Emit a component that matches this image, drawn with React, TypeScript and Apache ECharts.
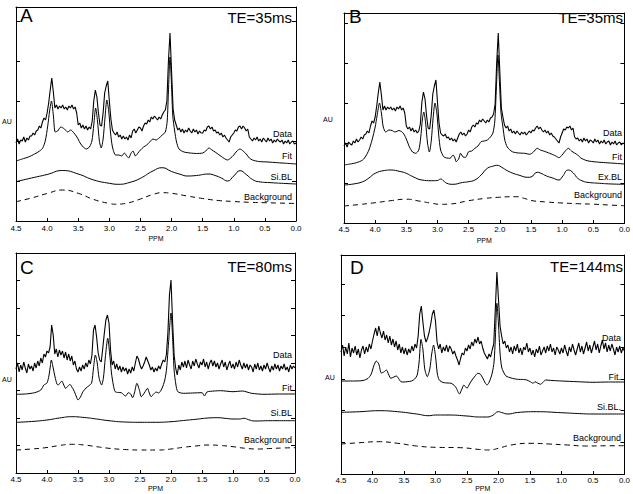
import React, { useEffect, useRef } from "react";
import * as echarts from "echarts";

// x axis (PPM) tick labels
const PPM_TICKS = ["4.5", "4.0", "3.5", "3.0", "2.5", "2.0", "1.5", "1.0", "0.5", "0.0"];
const DATA_STEP = 0.025; // Data traces sampled from 4.5 down to 0.0 ppm

// ---------------- Panel A (TE=35ms) ----------------
const dataA = [
  78, 82, 77, 81, 80, 84, 79, 83, 81, 85,
  85, 88, 86, 90, 91, 95, 93, 99, 103, 101,
  108, 118, 131, 143, 129, 113, 116, 112, 115, 113,
  116, 112, 114, 111, 115, 113, 116, 112, 114, 108,
  96, 98, 93, 96, 92, 95, 91, 94, 92, 100,
  120, 131, 124, 108, 96, 95, 108, 128, 135, 140,
  120, 102, 91, 88, 86, 89, 84, 86, 82, 85,
  82, 84, 81, 86, 83, 90, 92, 88, 91, 94,
  93, 90, 95, 98, 97, 101, 99, 104, 102, 105,
  103, 101, 104, 102, 106, 109, 111, 120, 160, 188,
  150, 112, 101, 96, 91, 93, 89, 92, 88, 91,
  89, 93, 90, 88, 92, 89, 91, 87, 90, 88,
  88, 91, 90, 94, 95, 92, 94, 90, 91, 88,
  89, 86, 88, 84, 86, 83, 81, 79, 84, 86,
  88, 91, 90, 94, 95, 92, 95, 93, 90, 92,
  84, 82, 80, 83, 81, 84, 80, 82, 79, 83,
  81, 79, 83, 80, 82, 78, 81, 79, 82, 80,
  79, 81, 77, 80, 78, 81, 77, 79, 80, 77,
  78,
];
const fitA = [
  [4.5, 60], [4.4, 62], [4.3, 64], [4.2, 67], [4.12, 70], [4.07, 73], [4.03, 80], [3.99, 95],
  [3.96, 110], [3.93, 120], [3.9, 106], [3.87, 89], [3.83, 90], [3.78, 94], [3.72, 92], [3.67, 89],
  [3.62, 91], [3.57, 88], [3.52, 84], [3.47, 78], [3.42, 74], [3.37, 72], [3.32, 74], [3.28, 80],
  [3.25, 96], [3.22, 113], [3.19, 100], [3.16, 80], [3.13, 73], [3.1, 82], [3.07, 103], [3.04, 121],
  [3.01, 110], [2.98, 88], [2.95, 74], [2.9, 66], [2.85, 66], [2.8, 65], [2.76, 68], [2.72, 65],
  [2.69, 63], [2.65, 68], [2.62, 70], [2.58, 65], [2.54, 68], [2.5, 71], [2.45, 74], [2.4, 76],
  [2.35, 79], [2.3, 82], [2.25, 81], [2.2, 83], [2.15, 86], [2.1, 89], [2.07, 100], [2.05, 130],
  [2.025, 164], [2.0, 135], [1.98, 105], [1.95, 90], [1.92, 79], [1.88, 72], [1.8, 69], [1.7, 68],
  [1.6, 67.5], [1.5, 68], [1.45, 70], [1.4, 73], [1.35, 71], [1.3, 69], [1.2, 64.5], [1.1, 61],
  [1.05, 63], [1.0, 66], [0.95, 70], [0.9, 72], [0.85, 70], [0.8, 67], [0.75, 63], [0.7, 61],
  [0.6, 59.5], [0.45, 59], [0.3, 58.3], [0.15, 57.7], [0, 57],
];
const blA = [
  [4.5, 39.3], [4.25, 43], [4.0, 46.5], [3.75, 50.5], [3.5, 47], [3.25, 41], [3.0, 37.7], [2.85, 36.7],
  [2.65, 39], [2.5, 42.7], [2.3, 50], [2.15, 53.3], [2.0, 49.5], [1.85, 46.5], [1.75, 45], [1.6, 45.5],
  [1.4, 47], [1.3, 45.5], [1.2, 43], [1.1, 40], [1.0, 45], [0.9, 50.3], [0.8, 46.5], [0.7, 41.5],
  [0.6, 39.3], [0.4, 38.3], [0.2, 37.6], [0, 37],
];
const bgA = [
  [4.5, 19.3], [4.25, 23], [4.0, 27.5], [3.75, 31], [3.5, 27.7], [3.25, 21.5], [3.0, 17.5], [2.9, 16.8],
  [2.75, 17.5], [2.5, 22], [2.3, 26.5], [2.15, 28.3], [2.0, 27.7], [1.75, 25], [1.5, 22.5], [1.25, 20.5],
  [1.0, 19.5], [0.75, 18.7], [0.5, 18.3], [0, 17.5],
];

// ---------------- Panel B (TE=35ms) ----------------
const dataB = [
  77, 80, 76, 81, 79, 78, 82, 80, 84, 81,
  83, 86, 84, 88, 89, 92, 90, 97, 102, 100,
  106, 117, 130, 141, 128, 113, 117, 113, 116, 114,
  116, 113, 115, 112, 116, 114, 117, 113, 115, 110,
  97, 94, 96, 92, 95, 91, 93, 90, 92, 99,
  121, 131, 124, 107, 95, 94, 108, 129, 137, 143,
  121, 100, 90, 88, 87, 89, 85, 86, 83, 85,
  82, 84, 81, 85, 89, 91, 88, 90, 87, 89,
  93, 91, 96, 98, 96, 100, 99, 103, 101, 104,
  102, 100, 103, 101, 105, 106, 109, 119, 160, 190,
  152, 115, 106, 98, 95, 97, 92, 94, 90, 92,
  89, 92, 90, 88, 91, 89, 91, 88, 90, 92,
  90, 93, 92, 95, 97, 94, 96, 93, 91, 93,
  90, 92, 88, 90, 87, 86, 84, 82, 80, 86,
  90, 94, 93, 96, 95, 97, 93, 95, 86, 84,
  85, 82, 84, 81, 85, 82, 84, 80, 83, 82,
  80, 84, 81, 83, 79, 82, 80, 83, 79, 81,
  82, 78, 81, 79, 82, 78, 80, 81, 78, 80,
  79,
];
const fitB = [
  [4.5, 58], [4.4, 59], [4.3, 60.3], [4.2, 63], [4.15, 67], [4.1, 73], [4.05, 83], [4.0, 96],
  [3.97, 107], [3.93, 120], [3.9, 110], [3.87, 96], [3.83, 91], [3.78, 93], [3.73, 92.5], [3.68, 91],
  [3.62, 92.5], [3.58, 91.5], [3.54, 89], [3.5, 84], [3.45, 76], [3.4, 71], [3.35, 69.7], [3.3, 73],
  [3.27, 85], [3.24, 105], [3.22, 111], [3.19, 100], [3.16, 80], [3.13, 71], [3.1, 82], [3.07, 105],
  [3.04, 120], [3.01, 110], [2.98, 88], [2.95, 73], [2.9, 66.3], [2.85, 65], [2.8, 64.7], [2.75, 68],
  [2.72, 65], [2.7, 61.3], [2.66, 64], [2.63, 69.7], [2.59, 66], [2.55, 65.7], [2.5, 71.3], [2.45, 72],
  [2.4, 74.7], [2.35, 77], [2.3, 81.3], [2.25, 82], [2.2, 83], [2.15, 86], [2.11, 90], [2.08, 102],
  [2.055, 135], [2.03, 168], [2.005, 140], [1.98, 110], [1.95, 96], [1.92, 83], [1.88, 76], [1.8, 71.3],
  [1.7, 70], [1.6, 69.7], [1.52, 68.7], [1.46, 71], [1.4, 74.7], [1.35, 73], [1.3, 72], [1.2, 69.7],
  [1.1, 67], [1.05, 65.3], [1.0, 68], [0.95, 72], [0.9, 74.7], [0.85, 72], [0.8, 70], [0.75, 68],
  [0.7, 65], [0.6, 62.3], [0.45, 61], [0.3, 60.3], [0.15, 59.7], [0, 59],
];
const blB = [
  [4.5, 38], [4.35, 39], [4.2, 41.3], [4.1, 45], [4.0, 49.7], [3.85, 52.5], [3.75, 53], [3.6, 51.5],
  [3.5, 49.7], [3.4, 46.5], [3.25, 43], [3.1, 42.3], [3.0, 42.5], [2.95, 44], [2.9, 42], [2.85, 39.7],
  [2.75, 38.7], [2.6, 40.5], [2.5, 41.3], [2.4, 43], [2.3, 48], [2.2, 54.7], [2.1, 57], [2.05, 57.7],
  [1.95, 55], [1.9, 53], [1.8, 50], [1.7, 48], [1.55, 45.7], [1.5, 46], [1.4, 50.7], [1.35, 50],
  [1.25, 47], [1.15, 45], [1.05, 43], [1.0, 46], [0.9, 53], [0.82, 50], [0.75, 44.7], [0.65, 41.5],
  [0.6, 40.7], [0.4, 39.7], [0.2, 39], [0, 38.7],
];
const bgB = [
  [4.5, 17], [4.25, 18.5], [4.0, 20.3], [3.75, 22.3], [3.5, 23.8], [3.3, 22], [3.1, 19.8], [2.95, 18.7],
  [2.8, 19], [2.5, 22.3], [2.25, 24.5], [2.0, 25.8], [1.75, 26.3], [1.6, 24.5], [1.5, 22.5], [1.25, 21],
  [1.0, 20], [0.75, 19.3], [0.5, 18.8], [0.25, 18], [0, 17.3],
];

// ---------------- Panel C (TE=80ms) ----------------
const dataC = [
  104, 110, 101, 108, 103, 111, 105, 100, 109, 104,
  107, 102, 110, 105, 112, 107, 115, 110, 119, 116,
  122, 120, 126, 148, 138, 119, 124, 116, 123, 118,
  122, 115, 121, 113, 119, 112, 117, 108, 112, 104,
  101, 106, 102, 108, 104, 110, 106, 113, 109, 118,
  143, 148, 136, 120, 113, 111, 125, 140, 153, 158,
  150, 123, 108, 112, 104, 109, 103, 107, 101, 106,
  102, 105, 99, 104, 100, 106, 102, 110, 117, 114,
  108, 104, 107, 111, 116, 112, 108, 103, 106, 101,
  105, 102, 107, 104, 109, 113, 111, 118, 140, 178,
  193, 152, 118, 105, 98, 108, 103, 111, 106, 112,
  105, 113, 108, 104, 112, 107, 114, 109, 105, 111,
  108, 114, 106, 111, 104, 110, 113, 107, 112, 106,
  110, 104, 109, 113, 106, 111, 103, 108, 112, 105,
  109, 104, 111, 106, 113, 108, 104, 110, 105, 109,
  103, 108, 106, 101, 109, 104, 110, 103, 107, 102,
  108, 104, 110, 105, 101, 107, 103, 109, 104, 108,
  102, 107, 104, 109, 103, 106, 101, 108, 104, 107,
  105,
];
const fitC = [
  [4.5, 78.7], [4.35, 79], [4.2, 80.3], [4.1, 83], [4.05, 88], [4.0, 90], [3.97, 97], [3.95, 105],
  [3.93, 113], [3.9, 105], [3.87, 96], [3.84, 89], [3.82, 88], [3.79, 90], [3.76, 92], [3.73, 88],
  [3.7, 84.7], [3.66, 87], [3.63, 88.7], [3.6, 86], [3.57, 83], [3.53, 77], [3.5, 73], [3.46, 76],
  [3.42, 81.3], [3.37, 85], [3.32, 87.5], [3.28, 90], [3.25, 105], [3.22, 118], [3.19, 110], [3.16, 95],
  [3.12, 88], [3.09, 95], [3.06, 115], [3.02, 134.7], [2.99, 120], [2.96, 100], [2.93, 88], [2.9, 81.3],
  [2.85, 80.5], [2.8, 80.3], [2.76, 78], [2.73, 77], [2.69, 80.3], [2.65, 79], [2.62, 75.3], [2.59, 80],
  [2.55, 89.7], [2.51, 83], [2.48, 76.3], [2.43, 80], [2.38, 84.7], [2.35, 80], [2.32, 76.3], [2.28, 79],
  [2.24, 81], [2.2, 80], [2.15, 84], [2.1, 93], [2.07, 105], [2.04, 130], [2.0, 160], [1.97, 130],
  [1.95, 103], [1.92, 88], [1.89, 81.3], [1.8, 79.7], [1.65, 80], [1.5, 80.3], [1.46, 77], [1.42, 81],
  [1.3, 82], [1.2, 82.3], [1.0, 81.3], [0.85, 82], [0.7, 79.7], [0.5, 78.7], [0.25, 79], [0, 79],
];
const blC = [
  [4.5, 50.7], [4.25, 51.5], [4.0, 53], [3.8, 55], [3.6, 56.3], [3.4, 55.5], [3.2, 54], [3.0, 52.3],
  [2.75, 51], [2.5, 50.7], [2.25, 50.7], [2.0, 51.3], [1.8, 52.5], [1.6, 53.7], [1.4, 55], [1.25, 55.3],
  [1.1, 54.5], [1.0, 54], [0.9, 54], [0.82, 54.7], [0.75, 53.3], [0.65, 52], [0.4, 52.3], [0, 52.3],
];
const bgC = [
  [4.5, 23], [4.25, 24], [4.0, 25.5], [3.8, 27.5], [3.6, 28.7], [3.4, 28], [3.2, 26.3], [3.0, 24.7],
  [2.75, 23.5], [2.5, 23], [2.2, 23], [2.0, 24], [1.8, 25.7], [1.6, 27], [1.4, 28], [1.2, 27.5],
  [1.0, 26.3], [0.8, 24.7], [0.6, 24], [0.4, 24.5], [0.2, 25], [0, 25.3],
];

// ---------------- Panel D (TE=144ms) ----------------
const dataD = [
  122, 129, 118, 127, 120, 131, 117, 126, 121, 128,
  119, 125, 116, 124, 128, 120, 127, 122, 130, 125,
  133, 140, 146, 138, 148, 141, 136, 143, 134, 139,
  131, 138, 129, 135, 127, 133, 124, 130, 121, 127,
  120, 126, 119, 125, 121, 128, 123, 130, 126, 138,
  160, 168, 152, 138, 132, 136, 142, 150, 160, 164,
  153, 132, 125, 130, 121, 127, 123, 129, 122, 128,
  125, 120, 123, 118, 114, 109, 116, 121, 119, 126,
  123, 129, 125, 132, 128, 135, 131, 137, 130, 133,
  126, 121, 118, 115, 120, 117, 124, 130, 165, 202,
  175, 148, 138, 130, 133, 126, 129, 122, 127, 120,
  128, 123, 130, 121, 126, 119, 127, 124, 131, 122,
  126, 119, 124, 117, 125, 121, 128, 119, 123, 127,
  121, 128, 123, 130, 122, 126, 119, 127, 124, 120,
  126, 121, 129, 123, 118, 127, 122, 130, 124, 119,
  125, 131, 122, 128, 120, 126, 132, 123, 129, 121,
  127, 133, 124, 130, 121, 128, 134, 125, 131, 122,
  129, 123, 130, 125, 119, 127, 122, 128, 121, 126,
  123,
];
const fitD = [
  [4.5, 93], [4.3, 93], [4.15, 93.5], [4.07, 95.7], [4.02, 100], [3.98, 108], [3.94, 113], [3.9, 110],
  [3.86, 101], [3.82, 102], [3.78, 104], [3.74, 99], [3.71, 95.7], [3.66, 97], [3.62, 98], [3.58, 95],
  [3.55, 92.3], [3.5, 92], [3.45, 92.3], [3.38, 93], [3.33, 95], [3.29, 99], [3.26, 112], [3.23, 134.7],
  [3.2, 125], [3.17, 105], [3.13, 97.3], [3.09, 105], [3.06, 120], [3.03, 129], [3.0, 118], [2.97, 100],
  [2.94, 94], [2.88, 91.5], [2.8, 91], [2.75, 90.7], [2.7, 88.5], [2.67, 86], [2.62, 80], [2.58, 85],
  [2.55, 89], [2.52, 87], [2.5, 85.7], [2.46, 90], [2.42, 94], [2.37, 98], [2.33, 100.7], [2.29, 100],
  [2.25, 96], [2.21, 91], [2.18, 89], [2.14, 93], [2.1, 100.7], [2.07, 112], [2.05, 135], [2.025, 170.7],
  [2.0, 150], [1.975, 121], [1.95, 107], [1.92, 102], [1.88, 98], [1.8, 96], [1.7, 94.7], [1.6, 94.5],
  [1.55, 94], [1.5, 92.5], [1.45, 90.7], [1.42, 92.3], [1.38, 91], [1.33, 89.7], [1.29, 92], [1.25, 94],
  [1.15, 93.5], [1.0, 93], [0.75, 92.3], [0.5, 91.7], [0.25, 92], [0, 92],
];
const blD = [
  [4.5, 61.7], [4.2, 62.3], [3.9, 63.3], [3.6, 62.3], [3.3, 60], [3.1, 58.3], [3.0, 59], [2.8, 59],
  [2.5, 58], [2.3, 57], [2.2, 57], [2.1, 58.3], [2.0, 62.3], [1.95, 61.5], [1.85, 60], [1.7, 61.5],
  [1.4, 62.3], [1.0, 61.3], [0.75, 60.5], [0.5, 60], [0, 60],
];
const bgD = [
  [4.5, 30], [4.2, 31.3], [3.9, 32.3], [3.6, 30.7], [3.3, 28], [3.0, 26.7], [2.6, 26.3], [2.3, 24.5],
  [2.15, 24], [2.0, 25.7], [1.8, 29], [1.5, 30.7], [1.2, 30], [0.9, 29], [0.6, 28], [0.3, 28.2],
  [0, 28.3],
];

const letters = ["A", "B", "C", "D"];
const echoTimes = ["TE=35ms", "TE=35ms", "TE=80ms", "TE=144ms"];
const traceNames = [
  ["Data", "Fit", "Si.BL", "Background"],
  ["Data", "Fit", "Ex.BL", "Background"],
  ["Data", "Fit", "Si.BL", "Background"],
  ["Data", "Fit.", "Si.BL.", "Background"],
];

// layout (pixels)
const layout = [
  { left: 16, top: 7, width: 280, height: 214, yInt: 40, nameGap: 14, labelMargin: 3,
    letter: [20, 15], te: [292, 17], au: [2, 121.5], labRight: 292, labY: [133.5, 156, 177, 196.5] },
  { left: 344, top: 13, width: 281, height: 210, yInt: 40, nameGap: 13.5, labelMargin: 2.5,
    letter: [349, 16], te: [623, 17.5], au: [323, 119], labRight: 622, labY: [133.3, 156.5, 177.3, 194.7] },
  { left: 16, top: 253, width: 279, height: 220, yInt: 27.5, nameGap: 12, labelMargin: 2.5,
    letter: [20, 267], te: [292, 266.7], au: [2, 379], labRight: 292, labY: [354.7, 387.5, 413.3, 440.3] },
  { left: 341, top: 255, width: 284, height: 219, yInt: 31.7, nameGap: 11, labelMargin: 2,
    letter: [350, 267], te: [623, 266.3], au: [325, 377.5], labRight: 621, labY: [338.3, 376.7, 406.7, 438.3] },
];

const dataSets = [dataA, dataB, dataC, dataD];
const fits = [fitA, fitB, fitC, fitD];
const baselines = [blA, blB, blC, blD];
const backgrounds = [bgA, bgB, bgC, bgD];

const FONT = '"Liberation Sans", Arial, Helvetica, sans-serif';

function buildOption() {
  const grid: any[] = [];
  const xAxis: any[] = [];
  const yAxis: any[] = [];
  const series: any[] = [];
  const graphic: any[] = [];

  layout.forEach((L, k) => {
    grid.push({ left: L.left, top: L.top, width: L.width, height: L.height, containLabel: false });
    xAxis.push({
      type: "value", gridIndex: k, min: 0, max: 4.5, interval: 0.5, inverse: true, position: "bottom",
      name: "PPM", nameLocation: "middle", nameGap: L.nameGap,
      nameTextStyle: { fontFamily: FONT, fontSize: 7, color: "#000" },
      axisLine: { show: true, onZero: false, lineStyle: { color: "#000", width: 1 } },
      axisTick: { show: true, inside: true, length: 3, lineStyle: { color: "#000" } },
      axisLabel: {
        show: true, margin: L.labelMargin, fontFamily: FONT, fontSize: 8, color: "#000",
        showMinLabel: true, showMaxLabel: true,
        formatter: (v: number) => PPM_TICKS[Math.round((4.5 - v) / 0.5)] ?? v.toFixed(1),
      },
      splitLine: { show: false },
    });
    xAxis.push({
      type: "value", gridIndex: k, min: 0, max: 4.5, interval: 0.5, inverse: true, position: "top",
      axisLine: { show: true, onZero: false, lineStyle: { color: "#000", width: 1 } },
      axisTick: { show: false }, axisLabel: { show: false }, splitLine: { show: false },
    });
    const yBase = {
      type: "value", gridIndex: k, min: 0, max: L.height, interval: L.yInt,
      axisLine: { show: true, onZero: false, lineStyle: { color: "#000", width: 1 } },
      axisTick: { show: true, inside: true, length: 4, lineStyle: { color: "#000" } },
      axisLabel: { show: false }, splitLine: { show: false },
    };
    yAxis.push({ ...yBase, position: "left" });
    yAxis.push({ ...yBase, position: "right" });

    const xi = 2 * k;
    const yi = 2 * k;
    const d = dataSets[k];
    series.push({
      type: "line", xAxisIndex: xi, yAxisIndex: yi, showSymbol: false, silent: true,
      data: d.map((v, i) => [4.5 - i * DATA_STEP, v]),
      lineStyle: { color: "#000", width: 1.1 },
    });
    series.push({
      type: "line", xAxisIndex: xi, yAxisIndex: yi, showSymbol: false, silent: true, smooth: 0.25,
      data: fits[k], lineStyle: { color: "#000", width: 1 },
    });
    series.push({
      type: "line", xAxisIndex: xi, yAxisIndex: yi, showSymbol: false, silent: true, smooth: 0.5,
      data: baselines[k], lineStyle: { color: "#000", width: 1 },
    });
    series.push({
      type: "line", xAxisIndex: xi, yAxisIndex: yi, showSymbol: false, silent: true, smooth: 0.5,
      data: backgrounds[k], lineStyle: { color: "#000", width: 1, type: [5, 4] },
    });

    graphic.push({
      type: "text", style: {
        text: letters[k], x: L.letter[0], y: L.letter[1], font: `19px ${FONT}`, fill: "#000",
        textAlign: "left", align: "left", textVerticalAlign: "middle", verticalAlign: "middle",
      },
    });
    graphic.push({
      type: "text", style: {
        text: echoTimes[k], x: L.te[0], y: L.te[1], font: `15px ${FONT}`, fill: "#000",
        textAlign: "right", align: "right", textVerticalAlign: "middle", verticalAlign: "middle",
      },
    });
    graphic.push({
      type: "text", style: {
        text: "AU", x: L.au[0], y: L.au[1], font: `7px ${FONT}`, fill: "#000",
        textAlign: "left", align: "left", textVerticalAlign: "middle", verticalAlign: "middle",
      },
    });
    traceNames[k].forEach((t, j) => {
      graphic.push({
        type: "text", style: {
          text: t, x: L.labRight, y: L.labY[j], font: `9px ${FONT}`, fill: "#000",
          textAlign: "right", align: "right", textVerticalAlign: "middle", verticalAlign: "middle",
        },
      });
    });
  });

  return {
    animation: false,
    backgroundColor: "#fff",
    grid, xAxis, yAxis, series, graphic,
  };
}

export default function App() {
  const ref = useRef<HTMLDivElement | null>(null);
  useEffect(() => {
    if (!ref.current) return;
    const chart = echarts.init(ref.current, undefined, { renderer: "svg" });
    chart.setOption(buildOption() as any);
    return () => chart.dispose();
  }, []);
  return (
    <div
      ref={ref}
      style={{ position: "absolute", left: 0, top: 0, width: 633, height: 494, background: "#fff" }}
    />
  );
}
